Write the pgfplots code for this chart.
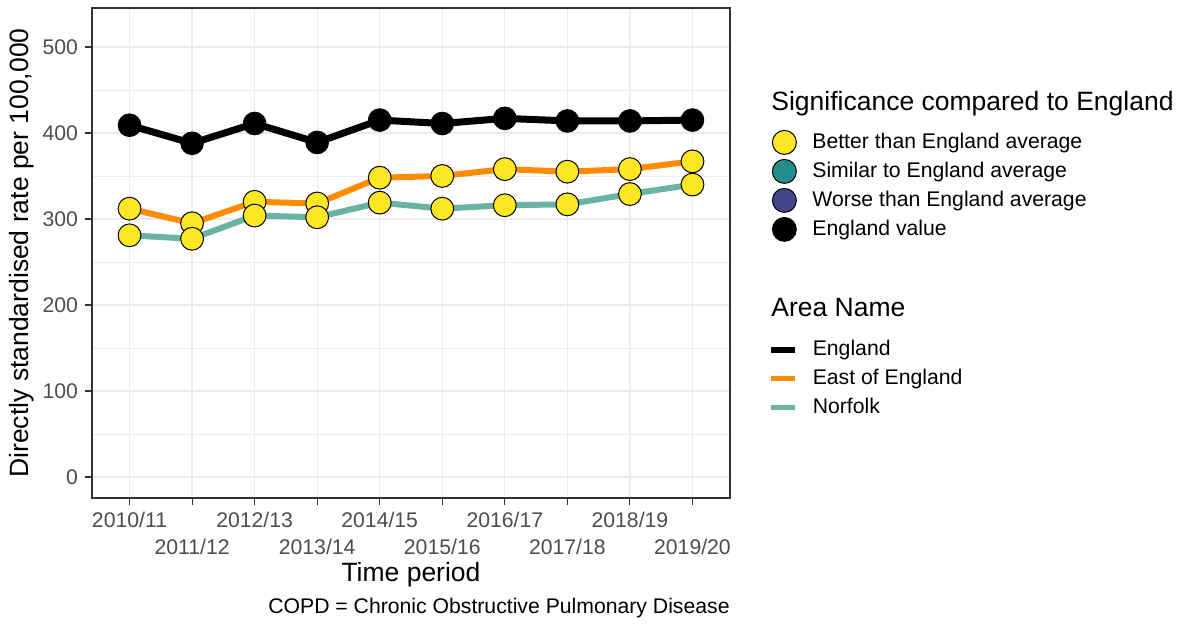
\documentclass[border=0pt]{standalone}
\usepackage{fontspec}
\setmainfont{Liberation Sans}
\usepackage{pgfplots}
\pgfplotsset{compat=1.18}

\definecolor{clrBetter}{HTML}{FDE725}
\definecolor{clrSimilar}{HTML}{21908C}
\definecolor{clrWorse}{HTML}{414487}
\definecolor{clrEast}{HTML}{FF8C00}
\definecolor{clrNorfolk}{HTML}{69B3A2}
\definecolor{clrGrid}{HTML}{EBEBEB}
\definecolor{clrTick}{HTML}{4D4D4D}
\definecolor{clrFrame}{HTML}{333333}

\newcommand{\smallfont}{\fontsize{10.6}{12.5}\selectfont}
\newcommand{\bigfont}{\fontsize{13.25}{15}\selectfont}

\pgfplotsset{
  circimg/.style={legend image code/.code={\draw[##1] plot coordinates {(6pt,0pt)};}},
  lineimg/.style={legend image code/.code={\draw[##1] (0pt,0pt) -- (12pt,0pt);}},
  myaxis/.style={
    scale only axis, width=319pt, height=245pt,
    xmin=-0.6, xmax=9.6, ymin=-24.4, ymax=545.3,
  },
  mylegbox/.style={
    draw=none, fill=none, inner sep=0pt, font=\smallfont,
    nodes={inner sep=0pt, text height=7.8pt, text depth=2.2pt},
  },
}

\begin{document}
\begin{tikzpicture}
\begin{axis}[
  myaxis, name=main, clip=false,
  axis line style={clrFrame, line width=0.6pt},
  xtick={0,...,9},
  xticklabels={
    {2010/11\\\strut}, {\strut\\2011/12},
    {2012/13\\\strut}, {\strut\\2013/14},
    {2014/15\\\strut}, {\strut\\2015/16},
    {2016/17\\\strut}, {\strut\\2017/18},
    {2018/19\\\strut}, {\strut\\2019/20}},
  ytick={0,100,...,500},
  minor ytick={50,150,...,450},
  grid=both,
  major grid style={clrGrid, line width=0.6pt},
  minor grid style={clrGrid, line width=0.3pt},
  tick align=outside, tick pos=left,
  major tick length=3.5pt, minor tick length=0pt,
  tick style={clrFrame, line width=0.55pt},
  /pgf/number format/assume math mode=true,
  yticklabel style={font=\smallfont, text=clrTick},
  xticklabel style={font=\smallfont, text=clrTick, align=center},
  ylabel={Directly standardised rate per 100,000},
  ylabel style={font=\bigfont, at={(axis description cs:-0.1097,0.5)}, anchor=center},
  xlabel={Time period},
  xlabel style={font=\bigfont, at={(axis description cs:0.5,-0.157)}, anchor=center},
  legend style={mylegbox, at={(axis description cs:1,1)}, anchor=north west,
    xshift=21pt, yshift=-61pt, row sep=2.5pt, column sep=8pt},
  legend cell align=left,
]
% lines
\addplot[forget plot, black, line width=3.5pt, line join=round] coordinates {
  (0,409) (1,388) (2,411) (3,389) (4,415) (5,411) (6,417) (7,414) (8,414) (9,415)};
\addplot[forget plot, clrEast, line width=3pt, line join=round] coordinates {
  (0,312) (1,295) (2,320) (3,318) (4,348) (5,350) (6,358) (7,355) (8,358) (9,367)};
\addplot[forget plot, clrNorfolk, line width=3pt, line join=round] coordinates {
  (0,281) (1,277) (2,304) (3,302) (4,319) (5,312) (6,316) (7,317) (8,329) (9,340)};
% points
\addplot[forget plot, only marks, mark=*, mark size=5.7pt,
  mark options={fill=black, draw=black}] coordinates {
  (0,409) (1,388) (2,411) (3,389) (4,415) (5,411) (6,417) (7,414) (8,414) (9,415)};
\addplot[forget plot, only marks, mark=*, mark size=5.7pt,
  mark options={fill=clrBetter, draw=black, line width=0.5pt}] coordinates {
  (0,312) (1,295) (2,320) (3,318) (4,348) (5,350) (6,358) (7,355) (8,358) (9,367)};
\addplot[forget plot, only marks, mark=*, mark size=5.7pt,
  mark options={fill=clrBetter, draw=black, line width=0.5pt}] coordinates {
  (0,281) (1,277) (2,304) (3,302) (4,319) (5,312) (6,316) (7,317) (8,329) (9,340)};

\addlegendimage{circimg, only marks, mark=*, mark size=6pt, mark options={fill=clrBetter, draw=black, line width=0.5pt}}
\addlegendentry{Better than England average}
\addlegendimage{circimg, only marks, mark=*, mark size=6pt, mark options={fill=clrSimilar, draw=black, line width=0.5pt}}
\addlegendentry{Similar to England average}
\addlegendimage{circimg, only marks, mark=*, mark size=6pt, mark options={fill=clrWorse, draw=black, line width=0.5pt}}
\addlegendentry{Worse than England average}
\addlegendimage{circimg, only marks, mark=*, mark size=6pt, mark options={fill=black, draw=black}}
\addlegendentry{England value}

\node[anchor=base west, font=\bigfont, inner sep=0pt] at ([xshift=20.5pt, yshift=-51pt]axis description cs:1,1) {Significance compared to England};
\node[anchor=base west, font=\bigfont, inner sep=0pt] at ([xshift=20.5pt, yshift=-154.3pt]axis description cs:1,1) {Area Name};
\node[anchor=east, font=\smallfont, inner sep=0pt] at (axis description cs:1,-0.2245) {COPD = Chronic Obstructive Pulmonary Disease};
\end{axis}

\begin{axis}[
  myaxis, hide axis,
  legend style={mylegbox, at={(axis description cs:1,1)}, anchor=north west,
    xshift=18.5pt, yshift=-165.7pt, row sep=4.4pt, column sep=7.5pt},
  legend cell align=left,
]
\addplot[forget plot, draw=none] coordinates {(0,0)};
\addlegendimage{lineimg, black, line width=3.2pt}
\addlegendentry{England}
\addlegendimage{lineimg, clrEast, line width=2.6pt}
\addlegendentry{East of England}
\addlegendimage{lineimg, clrNorfolk, line width=2.6pt}
\addlegendentry{Norfolk}
\end{axis}

\pgfresetboundingbox
\path ([xshift=-46pt,yshift=-62.5pt]main.south west) rectangle ([xshift=227pt,yshift=4pt]main.north east);
\end{tikzpicture}
\end{document}
